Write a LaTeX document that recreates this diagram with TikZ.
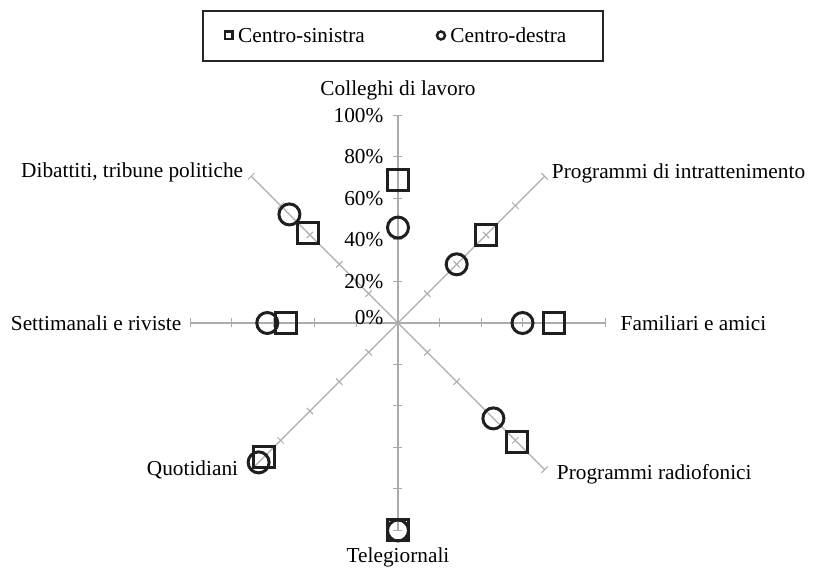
\documentclass[tikz,border=0pt]{standalone}
\usepackage{fontspec}
\setmainfont{Liberation Serif}
\usetikzlibrary{positioning}

\tikzset{
  axisline/.style={draw=gray!65, line width=1.2pt},
  axistick/.style={draw=gray!65, line width=1pt},
  sqmark/.style={rectangle, draw=black!88, line width=3pt, minimum size=21pt, inner sep=0pt},
  cimark/.style={circle, draw=black!88, line width=3pt, minimum size=21pt, inner sep=0pt},
  sqkey/.style={rectangle, draw=black!88, line width=2.5pt, minimum size=7.5pt, inner sep=0pt},
  cikey/.style={circle, draw=black!88, line width=2.5pt, minimum size=8pt, inner sep=0pt},
  chartfont/.style={font=\fontsize{21.3}{25}\selectfont, inner sep=0pt},
}

\begin{document}
\begin{tikzpicture}[x=1pt,y=1pt]
\useasboundingbox (-398,-249) rectangle (416,323);

% ── Centre ──
\coordinate (O) at (0,0);

% ── Axes, ticks and labels ──
\foreach \ang/\nm/\lab/\anc/\dx/\dy in {
    90/colleghi/{Colleghi di lavoro}/south/0/15,
    45/intratt/{Programmi di intrattenimento}/west/7/3,
    0/familiari/{Familiari e amici}/west/15/0,
    -45/radio/{Programmi radiofonici}/west/12/-5,
    -90/tg/{Telegiornali}/north/0/-17,
    -135/quotidiani/{Quotidiani}/east/-13/0,
    180/settimanali/{Settimanali e riviste}/east/-9/0,
    135/dibattiti/{Dibattiti, tribune politiche}/east/-8/4} {
  \coordinate (\nm) at (\ang:207.5);
  \draw[axisline] (O) -- (\nm);
  \foreach \k in {1,...,5}
    \draw[axistick] (\ang:\k*41.5) ++(\ang+90:4.5) -- ++(\ang-90:9);
  \node[chartfont, anchor=\anc, xshift=\dx, yshift=\dy] (\nm-lab) at (\nm) {\lab};
}

% ── Percentage scale ──
\node[chartfont, anchor=east] (p0) at (-14.5,5) {0\%};
\foreach \k/\v in {1/20,2/40,3/60,4/80,5/100}
  \node[chartfont, anchor=east] (p\v) at (-14.5,\k*41.5) {\v\%};

% ── Data: Centro-sinistra (squares) ──
\foreach \ang/\val/\nm in {90/69/colleghi, 45/60/intratt, 0/75/familiari,
    -45/81/radio, -90/100/tg, -135/91/quotidiani, 180/54/settimanali, 135/61/dibattiti}
  \node[sqmark] (sq-\nm) at (\ang:\val*2.075) {};

% ── Data: Centro-destra (circles) ──
\foreach \ang/\val/\nm in {90/46/colleghi, 45/40/intratt, 0/60/familiari,
    -45/65/radio, -90/100/tg, -135/95/quotidiani, 180/63/settimanali, 135/74/dibattiti}
  \node[cimark] (ci-\nm) at (\ang:\val*2.075) {};

% ── Legend ──
\draw[line width=1.3pt, black!85] (-195,312) rectangle (205,262);
\node[sqkey] (key-sx) at (-169,287.5) {};
\node[chartfont, right=4pt of key-sx] (key-sx-lab) {Centro-sinistra};
\node[cikey] (key-dx) at (43,287.5) {};
\node[chartfont, right=4pt of key-dx] (key-dx-lab) {Centro-destra};

\end{tikzpicture}
\end{document}
